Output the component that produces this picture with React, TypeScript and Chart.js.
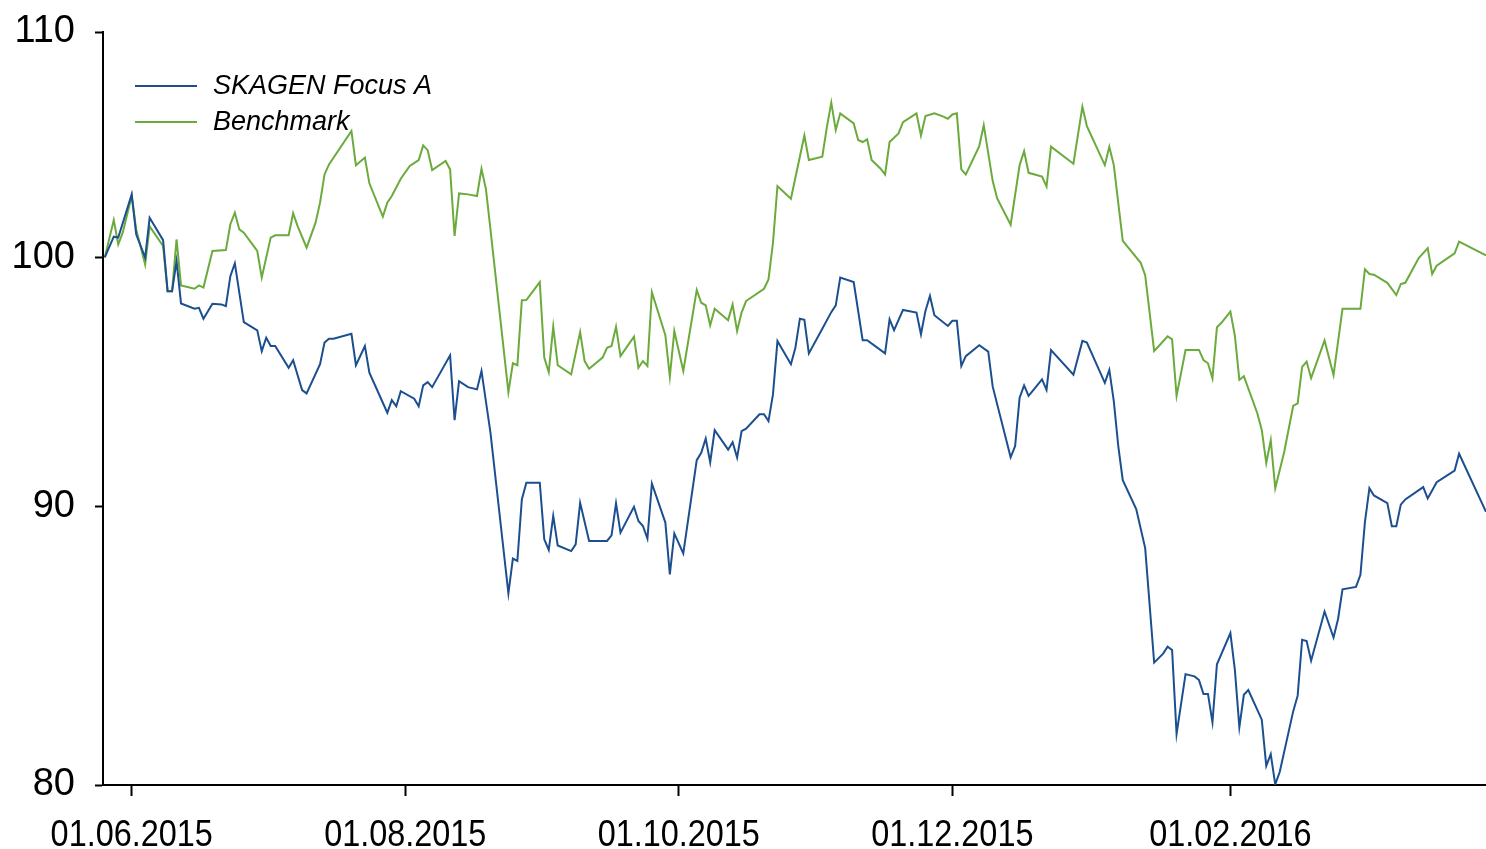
import React, { useEffect, useRef } from "react";
import { Chart, registerables } from "chart.js";

Chart.register(...registerables);

// x values are calendar days counted from 01.06.2015 (day 0)
const tickDays = [0, 61, 122, 183, 245];
const tickLabels = ["01.06.2015", "01.08.2015", "01.10.2015", "01.12.2015", "01.02.2016"];
const yTicks = [80, 90, 100, 110];
const xRange = [-6.4, 302];

const fundLabel = "SKAGEN Focus A";
const benchLabel = "Benchmark";

const fundDays = [-6, -4, -3, 0, 1, 3, 4, 7, 8, 9, 10, 11, 14, 15, 16, 18, 20, 21, 22, 23, 25, 28, 29, 30, 31, 32, 35, 36, 38, 39, 42, 43, 44, 45, 49, 50, 52, 53, 57, 58, 59, 60, 63, 64, 65, 66, 67, 71, 72, 73, 75, 77, 78, 80, 84, 85, 86, 87, 88, 91, 92, 93, 94, 95, 98, 99, 100, 102, 106, 107, 108, 109, 112, 113, 114, 115, 116, 119, 120, 121, 123, 126, 127, 128, 129, 130, 133, 134, 135, 136, 137, 140, 141, 142, 143, 144, 147, 148, 149, 150, 151, 154, 156, 157, 158, 161, 163, 164, 168, 169, 170, 172, 175, 176, 177, 178, 179, 182, 183, 184, 185, 186, 189, 191, 192, 196, 197, 198, 199, 200, 203, 204, 205, 210, 212, 213, 217, 218, 219, 220, 221, 224, 226, 228, 230, 231, 232, 233, 235, 237, 238, 239, 240, 241, 242, 245, 246, 247, 248, 249, 252, 253, 254, 255, 256, 259, 260, 261, 262, 263, 266, 268, 269, 270, 273, 274, 275, 276, 277, 280, 281, 282, 283, 284, 288, 289, 291, 295, 296, 302];
const fundValues = [100.0, 100.88, 100.84, 102.7, 100.98, 99.99, 101.69, 100.73, 98.58, 98.58, 99.84, 98.07, 97.85, 97.89, 97.44, 98.06, 98.03, 97.96, 99.21, 99.75, 97.3, 96.96, 96.11, 96.66, 96.32, 96.32, 95.44, 95.74, 94.54, 94.41, 95.58, 96.46, 96.62, 96.62, 96.82, 95.54, 96.32, 95.24, 93.64, 94.14, 93.9, 94.5, 94.2, 93.9, 94.73, 94.86, 94.66, 95.94, 93.35, 94.9, 94.66, 94.57, 95.31, 92.86, 86.75, 88.04, 87.95, 90.27, 90.91, 90.91, 88.76, 88.36, 89.64, 88.53, 88.32, 88.57, 90.14, 88.7, 88.7, 88.91, 90.12, 89.01, 89.99, 89.45, 89.26, 88.79, 90.88, 89.39, 87.45, 88.98, 88.23, 91.78, 92.07, 92.62, 91.7, 92.95, 92.19, 92.48, 91.88, 92.91, 93.01, 93.58, 93.58, 93.31, 94.37, 96.52, 95.58, 96.25, 97.44, 97.39, 96.02, 97.03, 97.71, 97.99, 99.15, 98.96, 96.56, 96.56, 96.02, 97.41, 96.97, 97.8, 97.69, 96.8, 97.76, 98.38, 97.58, 97.14, 97.35, 97.35, 95.51, 95.91, 96.35, 96.09, 94.68, 91.89, 92.33, 94.24, 94.73, 94.31, 94.97, 94.55, 96.16, 95.16, 96.53, 96.46, 94.83, 95.35, 94.1, 92.33, 91.01, 89.9, 88.43, 84.25, 84.57, 84.82, 84.7, 81.75, 83.84, 83.76, 83.63, 83.14, 83.14, 82.15, 84.19, 85.31, 83.99, 81.98, 83.11, 83.28, 82.24, 80.65, 81.05, 80.02, 80.44, 82.53, 83.08, 85.07, 85.02, 84.32, 86.09, 85.15, 85.81, 86.9, 86.99, 87.44, 89.41, 90.7, 90.42, 90.13, 89.25, 89.25, 90.07, 90.27, 90.74, 90.31, 90.93, 91.38, 92.03, 89.8];

const benchDays = [-6, -4, -3, -2, 0, 1, 3, 4, 7, 8, 9, 10, 11, 14, 15, 16, 18, 21, 22, 23, 24, 25, 28, 29, 31, 32, 35, 36, 37, 39, 41, 42, 43, 44, 49, 50, 52, 53, 56, 57, 58, 60, 62, 64, 65, 66, 67, 70, 71, 72, 73, 75, 77, 78, 79, 80, 84, 85, 86, 87, 88, 91, 92, 93, 94, 95, 98, 100, 101, 102, 105, 106, 107, 108, 109, 112, 113, 114, 115, 116, 119, 120, 121, 123, 126, 127, 128, 129, 130, 133, 134, 135, 136, 137, 141, 142, 143, 144, 147, 150, 151, 154, 155, 156, 157, 158, 161, 162, 163, 164, 165, 167, 168, 169, 171, 172, 175, 176, 177, 179, 181, 182, 183, 184, 185, 186, 189, 190, 192, 193, 196, 198, 199, 200, 203, 204, 205, 210, 212, 213, 217, 218, 219, 221, 225, 226, 228, 229, 231, 232, 233, 235, 238, 239, 240, 241, 242, 243, 245, 246, 247, 248, 251, 252, 253, 254, 255, 257, 259, 260, 261, 262, 263, 266, 268, 270, 274, 275, 276, 277, 280, 282, 283, 284, 287, 289, 290, 291, 295, 296, 302];
const benchValues = [100.0, 101.59, 100.55, 101.05, 102.63, 101.19, 99.7, 101.32, 100.48, 98.58, 98.58, 100.76, 98.82, 98.68, 98.82, 98.73, 100.27, 100.31, 101.41, 101.91, 101.19, 101.05, 100.27, 99.15, 100.84, 100.94, 100.94, 101.88, 101.33, 100.41, 101.48, 102.34, 103.57, 104.01, 105.49, 103.97, 104.31, 103.18, 101.74, 102.34, 102.63, 103.38, 103.94, 104.2, 104.85, 104.64, 103.76, 104.16, 103.79, 100.91, 102.74, 102.7, 102.63, 103.82, 102.92, 101.19, 94.46, 95.62, 95.54, 98.2, 98.21, 98.96, 95.85, 95.26, 97.11, 95.54, 95.17, 96.89, 95.71, 95.4, 95.85, 96.25, 96.32, 97.11, 95.91, 96.7, 95.44, 95.71, 95.51, 98.54, 96.76, 95.08, 96.93, 95.31, 98.63, 98.1, 97.99, 97.17, 97.85, 97.38, 98.03, 96.93, 97.69, 98.17, 98.68, 99.07, 100.62, 103.06, 102.51, 105.29, 104.2, 104.35, 105.64, 106.76, 105.53, 106.28, 105.83, 105.09, 105.0, 105.12, 104.2, 103.82, 103.57, 105.0, 105.38, 105.89, 106.28, 105.29, 106.16, 106.28, 106.13, 106.04, 106.23, 106.28, 103.79, 103.57, 104.82, 105.75, 103.28, 102.52, 101.39, 103.98, 104.59, 103.64, 103.48, 103.04, 104.79, 104.04, 106.58, 105.71, 103.98, 104.79, 103.98, 100.7, 99.77, 99.25, 96.12, 96.31, 96.72, 96.59, 94.31, 96.16, 96.16, 95.75, 95.62, 95.01, 97.09, 97.27, 97.73, 96.74, 94.95, 95.1, 93.62, 92.96, 91.67, 92.56, 90.7, 92.1, 93.91, 94.01, 95.47, 95.69, 95.02, 96.55, 95.14, 97.85, 97.85, 99.5, 99.3, 99.27, 98.93, 98.42, 98.88, 98.93, 99.97, 100.39, 99.3, 99.65, 100.17, 100.67, 100.08];

const fundColor = "#1B4F8F";
const benchColor = "#6BAA3C";

const toPoints = (days: number[], values: number[]) =>
  days.map((d, i) => ({ x: d, y: values[i] }));

const insideLegend = {
  id: "insideLegend",
  afterDraw(chart: any) {
    const ctx = chart.ctx;
    const { left, top } = chart.chartArea;
    ctx.save();
    chart.data.datasets.forEach((ds: any, i: number) => {
      const y = top + 54 + i * 36;
      ctx.strokeStyle = ds.borderColor;
      ctx.lineWidth = 2;
      ctx.beginPath();
      ctx.moveTo(left + 32, y);
      ctx.lineTo(left + 94, y);
      ctx.stroke();
      ctx.fillStyle = "#000";
      ctx.font = 'italic 27px "Liberation Sans", Arial, sans-serif';
      ctx.textAlign = "left";
      ctx.textBaseline = "middle";
      ctx.fillText(ds.label, left + 110, y);
    });
    ctx.restore();
  },
};

// draws the x tick labels in a slightly condensed face, as in the source
const condensedXLabels = {
  id: "condensedXLabels",
  afterDraw(chart: any) {
    const ctx = chart.ctx;
    const xs = chart.scales.x;
    ctx.save();
    ctx.fillStyle = "#000";
    ctx.font = '36px "Liberation Sans", Arial, sans-serif';
    ctx.textAlign = "center";
    ctx.textBaseline = "alphabetic";
    tickDays.forEach((d, i) => {
      const px = xs.getPixelForValue(d);
      ctx.save();
      ctx.translate(px, xs.top + 61);
      ctx.scale(0.9, 1);
      ctx.fillText(tickLabels[i], 0, 0);
      ctx.restore();
    });
    ctx.restore();
  },
};

export default function App() {
  const ref = useRef<HTMLCanvasElement>(null);

  useEffect(() => {
    if (!ref.current) return;
    const chart = new Chart(ref.current, {
      type: "line",
      data: {
        datasets: [
          {
            label: fundLabel,
            data: toPoints(fundDays, fundValues),
            borderColor: fundColor,
            borderWidth: 2,
            pointRadius: 0,
            tension: 0,
            fill: false,
          },
          {
            label: benchLabel,
            data: toPoints(benchDays, benchValues),
            borderColor: benchColor,
            borderWidth: 2,
            pointRadius: 0,
            tension: 0,
            fill: false,
          },
        ],
      },
      options: {
        animation: false,
        responsive: false,
        devicePixelRatio: 1,
        layout: { padding: { top: 32, right: 0, left: 0, bottom: 0 } },
        plugins: {
          legend: { display: false },
          tooltip: { enabled: false },
        },
        scales: {
          x: {
            type: "linear",
            min: xRange[0],
            max: xRange[1],
            afterBuildTicks: (s: any) => {
              s.ticks = tickDays.map((v) => ({ value: v }));
            },
            afterFit: (s: any) => {
              s.height = 64;
              s.paddingLeft = 0;
              s.paddingRight = 0;
              s.paddingTop = 0;
              s.paddingBottom = 0;
            },
            ticks: {
              display: false,
              autoSkip: false,
              maxRotation: 0,
              minRotation: 0,
              callback: (v: any) => {
                const i = tickDays.indexOf(Number(v));
                return i >= 0 ? tickLabels[i] : "";
              },
            },
            grid: {
              drawOnChartArea: false,
              drawTicks: true,
              tickLength: 11,
              tickColor: "#000",
              tickWidth: 2,
            },
            border: { display: true, color: "#000", width: 2 },
          },
          y: {
            type: "logarithmic",
            min: 80,
            max: 110,
            afterBuildTicks: (s: any) => {
              s.ticks = yTicks.map((v) => ({ value: v }));
            },
            afterFit: (s: any) => {
              s.width = 103;
              s.paddingLeft = 0;
              s.paddingRight = 0;
              s.paddingTop = 0;
              s.paddingBottom = 0;
            },
            ticks: {
              padding: 20,
              color: "#000",
              font: { family: '"Liberation Sans", Arial, sans-serif', size: 38 },
              callback: (v: any) => String(v),
            },
            grid: {
              drawOnChartArea: false,
              drawTicks: true,
              tickLength: 8,
              tickColor: "#000",
              tickWidth: 2,
            },
            border: { display: true, color: "#000", width: 2 },
          },
        },
      },
      plugins: [insideLegend, condensedXLabels],
    });
    return () => chart.destroy();
  }, []);

  return (
    <div style={{ position: "absolute", left: 0, top: 0, width: 1486, height: 849, background: "#fff" }}>
      <canvas ref={ref} width={1486} height={849} style={{ width: 1486, height: 849, display: "block" }} />
    </div>
  );
}
